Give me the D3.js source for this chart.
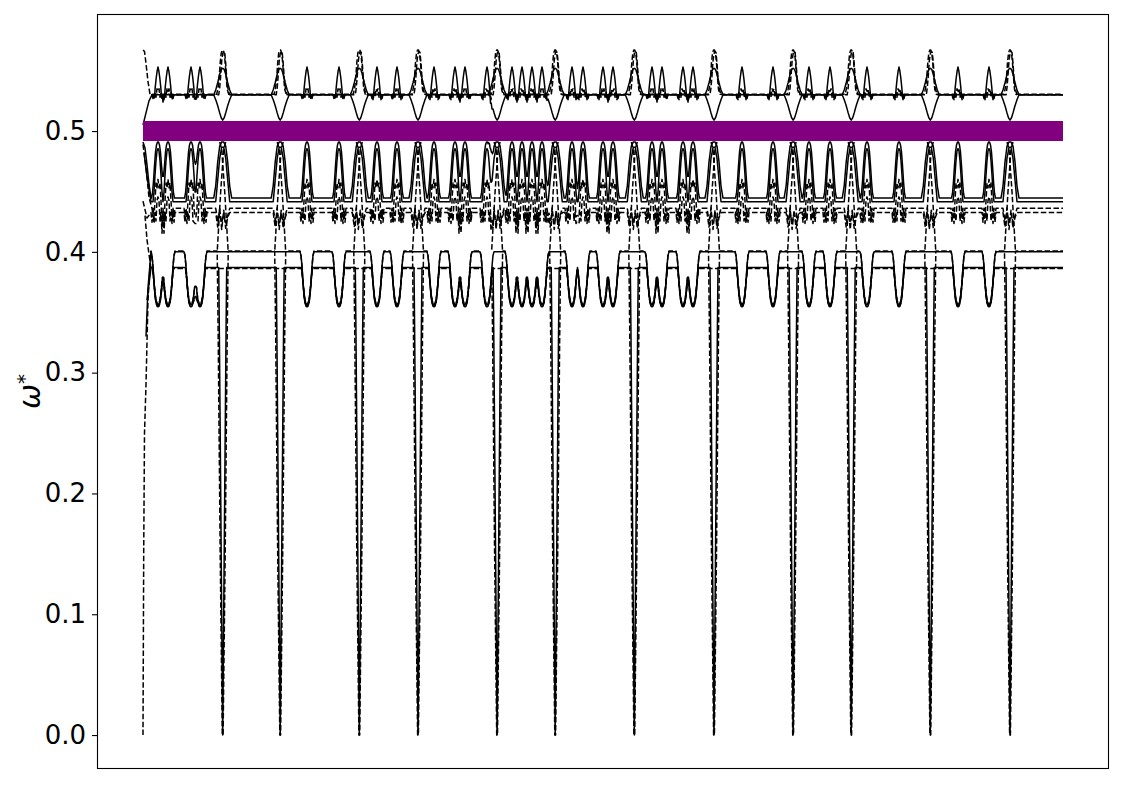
<!DOCTYPE html>
<html><head><meta charset="utf-8">
<script src="https://cdn.jsdelivr.net/npm/d3@7"></script>
<style>body{margin:0;background:#fff} svg{display:block}</style>
</head><body><svg id="c" width="1125" height="785"></svg>
<script>
// ---------------- data ----------------
const tRange = [0, 920];
const eventPos = [79.7, 137.2, 216.3, 275, 354.1, 412.2, 491.3, 571, 650.1, 708.2, 787.3, 867];
const bumpPos = [15, 25, 48, 57, 164, 196, 234, 254, 291, 312, 322, 344, 369, 379, 389, 399,
                 429, 440, 460, 470, 509, 519, 540, 550, 599, 630, 666, 687, 724, 756, 815, 846];
const bandLevel = 0.5;
const yTickValues = [0.0, 0.1, 0.2, 0.3, 0.4, 0.5];

// base levels of each branch
const levels = {
  topLow: 0.530, topUp: 0.530, topDash1: 0.5305, topDash2: 0.5300,
  midS1: 0.4445, midS2: 0.4415, midD1: 0.4360, midD2: 0.4325,
  lowS1: 0.400, lowD1: 0.4008, lowS2: 0.387, lowD2: 0.3862
};
// start of each branch at the left edge (absolute [t, value])
const starts = {
  topLow: [[0,0.505],[3,0.515],[6,0.525],[9,0.530]],
  topUp: [[8,0.530]],
  topDash1: [[0,0.567],[1.5,0.566],[3,0.556],[5,0.541],[7,0.5305]],
  topDash2: [[8,0.530]],
  midS1: [[0,0.491],[2,0.486],[4,0.472],[6,0.456],[8,0.4445]],
  midS2: [[1,0.482],[4,0.462],[8,0.4415]],
  midD1: [[0,0.489],[3,0.47],[6,0.445],[9,0.436]],
  midD2: [[0,0.442],[4,0.428],[8,0.4325]],
  lowS1: [[3,0.33],[5,0.37],[8,0.400]],
  lowD1: [[0,0],[0.7,0.15],[1.5,0.25],[3,0.29],[5,0.36],[8,0.4008]],
  lowS2: [[4,0.36],[8,0.387]],
  lowD2: [[2,0.43],[4,0.41],[8,0.3862]]
};
// shape of a bump (relative [dt, dvalue]) on each branch
const bumpShapes = {
  topLow: [[-6,0],[-5,-0.003],[-4.2,0],[-3.5,-0.002],[-2.8,0.006],[-1.8,0.014],[-0.8,0.020],[0,0.023],[0.8,0.020],[1.8,0.014],[2.8,0.006],[3.5,-0.002],[4.2,0],[5,-0.003],[6,0]],
  topDash2: [[-5,0],[-4,-0.004],[-3,0.002],[-2,-0.002],[-1,0.005],[0,0.003],[1,0.005],[2,-0.002],[3,0.002],[4,-0.004],[5,0]],
  midS1: [[-6.5,0],[-5.5,0.004],[-4.5,0.014],[-3.5,0.027],[-2.5,0.038],[-1.5,0.044],[-0.5,0.0465],[0.5,0.0465],[1.5,0.044],[2.5,0.038],[3.5,0.027],[4.5,0.014],[5.5,0.004],[6.5,0]],
  midS2: [[-5,0],[-4,0.008],[-3,0.022],[-2,0.034],[-1,0.042],[0,0.044],[1,0.042],[2,0.034],[3,0.022],[4,0.008],[5,0]],
  midD1: [[-7,0],[-6,-0.006],[-5,0],[-4,-0.007],[-3,0.006],[-2,0.021],[-1,0.017],[0,0.024],[1,0.017],[2,0.021],[3,0.006],[4,-0.007],[5,0],[6,-0.006],[7,0]],
  midD2: [[-7,0],[-6,-0.008],[-5,0],[-4,-0.009],[-3,0],[-2,-0.007],[-1,0.01],[0,0.013],[1,0.01],[2,-0.007],[3,0],[4,-0.009],[5,0],[6,-0.008],[7,0]],
  lowS1: [[-7,0],[-6,-0.003],[-5,-0.012],[-4,-0.025],[-3,-0.036],[-2,-0.042],[-1,-0.045],[0,-0.0455],[1,-0.045],[2,-0.042],[3,-0.036],[4,-0.025],[5,-0.012],[6,-0.003],[7,0]],
  lowD1: [[-7,0],[-6,-0.004],[-5,-0.013],[-4,-0.026],[-3,-0.037],[-2,-0.043],[-1,-0.045],[0,-0.045],[1,-0.045],[2,-0.043],[3,-0.037],[4,-0.026],[5,-0.013],[6,-0.004],[7,0]],
  lowS2: [[-5.5,0],[-4,-0.012],[-3,-0.021],[-2,-0.027],[-1,-0.03],[0,-0.031],[1,-0.03],[2,-0.027],[3,-0.021],[4,-0.012],[5.5,0]],
  lowD2: [[-5.5,0],[-4,-0.011],[-3,-0.02],[-2,-0.026],[-1,-0.029],[0,-0.03],[1,-0.029],[2,-0.026],[3,-0.02],[4,-0.011],[5.5,0]]
};
// shape at the crossing events (relative [dt, dvalue])
const eventShapes = {
  topLow: [[-9,0],[-7,-0.004],[-5,-0.009],[-3,-0.015],[-1.5,-0.019],[0,-0.021],[1.5,-0.019],[3,-0.015],[5,-0.009],[7,-0.004],[9,0]],
  topUp: [[-9,0],[-7,0.004],[-5,0.010],[-3,0.017],[-1.5,0.021],[0,0.022],[1.5,0.021],[3,0.017],[5,0.010],[7,0.004],[9,0]],
  topDash1: [[-6,0],[-4.5,0.006],[-3.5,0.014],[-2.5,0.026],[-1.5,0.034],[-0.5,0.0365],[0.5,0.0365],[1.5,0.034],[2.5,0.026],[3.5,0.014],[4.5,0.004],[6,0]],
  topDash2: [[-4,0],[-3,0.006],[-2,0.016],[-1,0.028],[0,0.034],[1,0.036],[2,0.035],[3,0.026],[4,0.014],[5.5,0.004],[7,0]],
  midS1: [[-9,0],[-7,0.01],[-5,0.03],[-3,0.043],[-1,0.0465],[1,0.0465],[3,0.043],[5,0.03],[7,0.01],[9,0]],
  midS2: [[-7,0],[-5,0.018],[-3,0.036],[-1,0.045],[1,0.045],[3,0.036],[5,0.018],[7,0]],
  midD1: [[-7,0],[-5,-0.01],[-3,-0.004],[-1,-0.012],[1,-0.004],[3,-0.012],[5,-0.006],[7,0]],
  midD2: [[-7,0],[-5,-0.012],[-3,0.004],[-1,-0.014],[1,0.002],[3,-0.013],[5,-0.004],[7,0]]
};
// spikes down to zero at the events (absolute [dt, value], minimum taken)
const spikeShapes = {
  lowS2: [[-5,0.43],[-4,0.39],[-3.3,0.33],[-2,0.2],[-1,0.1],[0,0],[1,0.1],[2,0.2],[3.3,0.33],[4,0.39],[5,0.43]],
  lowD1: [[-7,0.45],[-5.5,0.40],[-4.5,0.33],[-2.5,0.15],[-0.4,0],[0.4,0],[2.5,0.15],[4.5,0.33],[5.5,0.40],[7,0.45]]
};
// dashed crossing branches at each event (absolute [dt, value])
const crossA = [[-3,0.491],[-1,0.485],[2,0.45],[5.5,0.40]];
const crossB = [[3,0.491],[1,0.485],[-2,0.45],[-5.5,0.40]];
const seriesStyle = {
  topLow: 'solid', topUp: 'solid', topDash1: 'dash', topDash2: 'dash',
  midS1: 'solid', midS2: 'solid', midD1: 'dash', midD2: 'dash',
  lowS1: 'solid', lowD1: 'dash', lowS2: 'solid', lowD2: 'dash'
};

// ---------------- drawing ----------------
const W = 1125, H = 785;
const plot = {left: 97, right: 1109, top: 14, bottom: 769};
const pad = (tRange[1] - tRange[0]) * 0.05;
const x = d3.scaleLinear().domain([tRange[0] - pad, tRange[1] + pad]).range([plot.left, plot.right]);
const y = d3.scaleLinear().domain([-0.0281, 0.5969]).range([plot.bottom, plot.top]);

const svg = d3.select('#c');
svg.append('rect').attr('width', W).attr('height', H).attr('fill', '#fff');

function interp(profile, dx) {
  const n = profile.length;
  if (dx < profile[0][0] || dx > profile[n - 1][0]) return null;
  for (let i = 0; i < n - 1; i++) {
    const a = profile[i], b = profile[i + 1];
    if (dx >= a[0] && dx <= b[0]) {
      const f = b[0] === a[0] ? 0 : (dx - a[0]) / (b[0] - a[0]);
      return a[1] + f * (b[1] - a[1]);
    }
  }
  return null;
}

function buildSeries(key) {
  const base = levels[key];
  const st = starts[key] || [];
  const t0 = st.length ? st[st.length - 1][0] : 0;
  const bShape = bumpShapes[key], eShape = eventShapes[key], sShape = spikeShapes[key];
  const ts = new Set();
  for (let t = Math.ceil(t0 * 2) / 2; t <= tRange[1]; t += 0.5) ts.add(+t.toFixed(3));
  const addFeat = (positions, shape) => {
    if (!shape) return;
    positions.forEach(p => shape.forEach(s => { const t = +(p + s[0]).toFixed(3); if (t > t0 && t <= tRange[1]) ts.add(t); }));
  };
  addFeat(bumpPos, bShape); addFeat(eventPos, eShape); addFeat(eventPos, sShape);
  const grid = Array.from(ts).sort((a, b) => a - b).filter(t => t > t0);
  const pts = st.map(d => ({t: d[0], v: d[1]}));
  grid.forEach(t => {
    let v = base;
    if (bShape) bumpPos.forEach(p => { const o = interp(bShape, t - p); if (o !== null) v += o; });
    if (eShape) eventPos.forEach(p => { const o = interp(eShape, t - p); if (o !== null) v += o; });
    if (sShape) eventPos.forEach(p => { const o = interp(sShape, t - p); if (o !== null) v = Math.min(v, o); });
    pts.push({t, v});
  });
  return pts;
}

const line = d3.line().x(d => x(d.t)).y(d => y(d.v));
const g = svg.append('g');

Object.keys(levels).forEach(key => {
  const pts = buildSeries(key);
  g.append('path').datum(pts).attr('d', line)
    .attr('fill', 'none').attr('stroke', '#000').attr('stroke-width', 1.5)
    .attr('stroke-linejoin', 'round')
    .attr('stroke-dasharray', seriesStyle[key] === 'dash' ? '5.5,2.4' : null);
});

eventPos.forEach(p => {
  [crossA, crossB].forEach(c => {
    g.append('path').datum(c.map(d => ({t: p + d[0], v: d[1]}))).attr('d', line)
      .attr('fill', 'none').attr('stroke', '#000').attr('stroke-width', 1.5)
      .attr('stroke-dasharray', '5.5,2.4');
  });
});

// purple band at omega = 0.5
svg.append('line')
  .attr('x1', x(tRange[0])).attr('x2', x(tRange[1]))
  .attr('y1', y(bandLevel)).attr('y2', y(bandLevel))
  .attr('stroke', '#800080').attr('stroke-width', 20);

// frame
svg.append('rect').attr('x', plot.left + 0.5).attr('y', plot.top + 0.5)
  .attr('width', plot.right - plot.left - 1).attr('height', plot.bottom - plot.top - 1)
  .attr('fill', 'none').attr('stroke', '#000').attr('stroke-width', 1.1);

// y axis
const yAxis = d3.axisLeft(y).tickValues(yTickValues).tickFormat(d3.format('.1f'))
  .tickSize(5).tickPadding(6);
const ag = svg.append('g').attr('transform', `translate(${plot.left},0)`).call(yAxis);
ag.select('.domain').remove();
ag.selectAll('.tick line').attr('stroke', '#000').attr('stroke-width', 1.1);
ag.selectAll('.tick text').attr('fill', '#000')
  .style('font-family', '"DejaVu Sans", sans-serif').style('font-size', '26px');

// y label
const yl = svg.append('text')
  .attr('transform', `translate(40, ${(plot.top + plot.bottom) / 2}) rotate(-90)`)
  .attr('text-anchor', 'middle')
  .style('font-family', '"DejaVu Sans", sans-serif').style('font-size', '30px');
yl.append('tspan').text('ω').style('font-style', 'italic');
yl.append('tspan').text('*').attr('dy', '-0.45em').style('font-size', '20px');
</script>
</body></html>
